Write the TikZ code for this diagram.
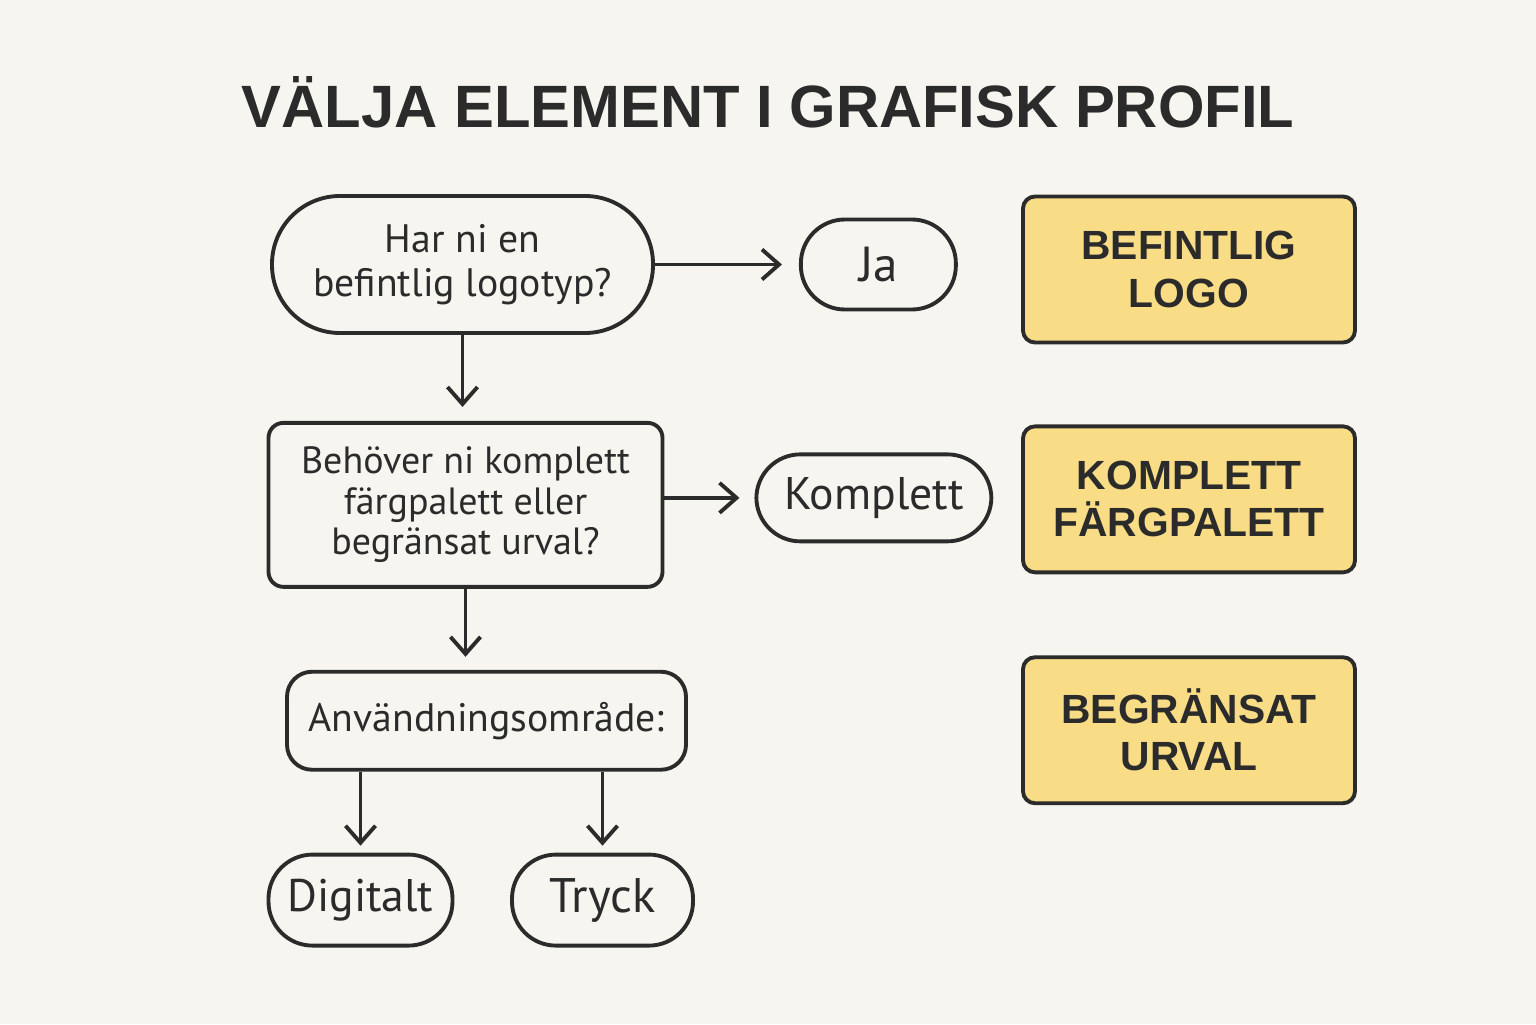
\documentclass[tikz,border=0pt]{standalone}
\usepackage{fontspec}
\setmainfont{PT Sans}
\newfontfamily\headfont{Liberation Sans}
\usetikzlibrary{arrows.meta}
\usetikzlibrary{positioning}
\usepackage{xcolor}
\definecolor{paper}{HTML}{F7F5F0}
\definecolor{ink}{HTML}{2B2B2B}
\definecolor{butter}{HTML}{F8DC86}

\begin{document}
\begin{tikzpicture}[
  node distance=0.9cm,
  question/.style={rectangle, draw=ink, line width=1.1pt,
    rounded corners=0.15cm, align=center, text=ink,
    font=\fontsize{10.8}{11.5}\selectfont, inner sep=0pt},
  pill/.style={rectangle, draw=ink, line width=1.1pt,
    rounded corners=0.44cm, minimum height=0.9cm,
    align=center, text=ink, font=\fontsize{13}{15}\selectfont, inner sep=0pt},
  result/.style={rectangle, draw=ink, fill=butter, line width=1.1pt,
    rounded corners=0.12cm, minimum width=3.32cm, minimum height=1.46cm,
    align=center, text=ink, font=\headfont\bfseries\fontsize{11.6}{13.4}\selectfont},
  arrow/.style={-{Straight Barb[length=0.17cm, width=0.3cm]}, line width=1.1pt, draw=ink},
]

% === Background + title ===
\fill[paper] (0,0) rectangle (15.36,10.24);
\node[anchor=base, text=ink, font=\headfont\bfseries\fontsize{17}{20}\selectfont]
  (title) at (7.68,8.96) {VÄLJA ELEMENT I GRAFISK PROFIL};

% === Questions ===
\node[question, rounded corners=0.68cm, minimum width=3.81cm, minimum height=1.37cm,
  font=\fontsize{11.3}{12.5}\selectfont] (logo_q) at (4.625,7.595)
  {Har ni en\\befintlig logotyp?};
\node[pill, minimum width=1.55cm, right=1.44cm of logo_q,
  font=\fontsize{14}{15}\selectfont] (ja) {Ja};

\node[question, minimum width=3.94cm, minimum height=1.64cm,
  below=0.86cm of logo_q, xshift=0.03cm] (palette_q)
  {Behöver ni komplett\\färgpalett eller\\begränsat urval?};
\node[pill, minimum width=2.35cm, minimum height=0.87cm,
  right=0.90cm of palette_q, yshift=0.07cm] (komplett) {Komplett};

\node[question, rounded corners=0.25cm, minimum width=3.99cm, minimum height=0.98cm,
  font=\fontsize{11.3}{14}\selectfont,
  below=0.81cm of palette_q, xshift=0.21cm] (usage_q) {Användningsområde:};

\node[pill, minimum width=1.84cm, minimum height=0.91cm,
  below=0.81cm of usage_q, xshift=-1.26cm] (digital) {Digitalt};
\node[pill, minimum width=1.81cm, minimum height=0.91cm,
  below=0.81cm of usage_q, xshift=1.16cm, font=\fontsize{13.8}{15}\selectfont] (tryck) {Tryck};

% === Results ===
\node[result] (res_logo) at (11.89,7.545) {BEFINTLIG\\LOGO};
\node[result, below=0.80cm of res_logo] (res_full) {KOMPLETT\\FÄRGPALETT};
\node[result, below=0.81cm of res_full] (res_limited) {BEGRÄNSAT\\URVAL};

% === Arrows ===
\draw[arrow, shorten >=0.17cm] (logo_q.east) -- (ja.west);
\draw[arrow, shorten >=0.14cm] (logo_q.south) -- (logo_q.south |- palette_q.north);
\draw[arrow, shorten >=0.15cm] (palette_q.east |- komplett) -- (komplett.west);
\draw[arrow, shorten >=0.13cm] (palette_q.south) -- (palette_q.south |- usage_q.north);
\draw[arrow, shorten >=0.07cm] (usage_q.south -| digital) -- (digital.north);
\draw[arrow, shorten >=0.07cm] (usage_q.south -| tryck) -- (tryck.north);

\end{tikzpicture}
\end{document}
